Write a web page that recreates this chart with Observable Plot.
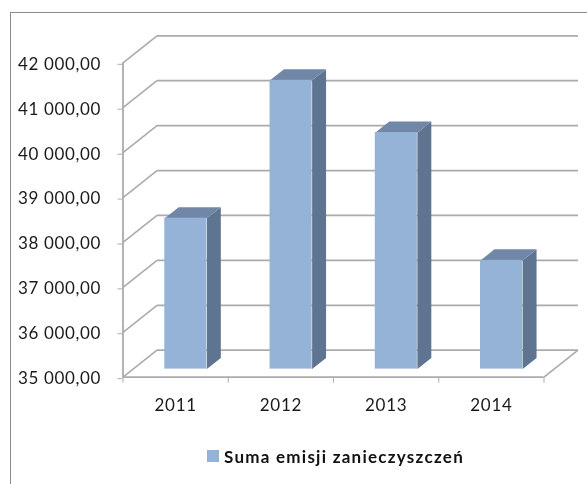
<!DOCTYPE html>
<html lang="pl">
<head>
<meta charset="utf-8">
<script src="https://cdn.jsdelivr.net/npm/d3@7"></script>
<script src="https://cdn.jsdelivr.net/npm/@observablehq/plot@0.6"></script>
<style>
  html, body { margin: 0; padding: 0; background: #fff; }
  #chart { position: relative; width: 587px; height: 484px; overflow: hidden; font-family: Lato, sans-serif; filter: blur(0.4px); }
  #frame { position: absolute; left: 10px; top: 12px; width: 600px; height: 500px; border: 1px solid #8c8c8c; border-width: 1.5px 0 0 1.5px; box-sizing: border-box; }
  #plot { position: absolute; left: 0; top: 0; }
  #plot svg { background: transparent !important; display: block; }
  #legend { position: absolute; left: 207px; top: 446px; display: flex; align-items: center; height: 20px; font-size: 17px; letter-spacing: 1.25px; font-weight: 700; color: #111; white-space: nowrap; }
  #legend i { display: block; width: 12px; height: 12px; margin-right: 5px; background: #95b3d7; }
</style>
</head>
<body>
<div id="chart">
  <div id="frame"></div>
  <div id="plot"></div>
  <div id="legend"><i></i><span>Suma emisji zanieczyszczeń</span></div>
</div>
<script>
const years = ["2011", "2012", "2013", "2014"];
const emissions = [38360, 41430, 40265, 37420];
const yTicks = [35000, 36000, 37000, 38000, 39000, 40000, 41000, 42000];
const categoryEdges = [0, 1, 2, 3, 4];
const baseValue = 35000;

// pseudo-3D: depth d (0 = front of floor, 1 = back wall) shifts a point in data units
const depthX = 34 / 105.25;
const depthY = 27 / 44.93 * 1000;
const barFront = 0.3, barBack = 0.71, barLeft = 0.3, barRight = 0.7;
const px = (c, d) => c + d * depthX;
const py = (v, d) => v + d * depthY;

const fmt = d3.formatLocale({decimal: ",", thousands: " ", grouping: [3], currency: ["", ""]}).format(",.2f");

const bars = emissions.map((v, i) => ({year: years[i], i, v}));
const poly = (id, pts) => pts.map(([c, v, d]) => ({id, x: px(c, d), y: py(v, d)}));
const sides = bars.flatMap(b => poly("s" + b.i, [
  [b.i + barRight, b.v, barFront], [b.i + barRight, b.v, barBack],
  [b.i + barRight, baseValue, barBack], [b.i + barRight, baseValue, barFront]
]));
const tops = bars.flatMap(b => poly("t" + b.i, [
  [b.i + barLeft, b.v, barFront], [b.i + barRight, b.v, barFront],
  [b.i + barRight, b.v, barBack], [b.i + barLeft, b.v, barBack]
]));

const grey = "#ababab";
const chart = Plot.plot({
  width: 587,
  height: 430,
  marginLeft: 122.5,
  marginRight: 43.5,
  marginTop: 62.3,
  marginBottom: 53.3,
  x: {type: "linear", domain: [0, 4]},
  y: {type: "linear", domain: [35000, 42000]},
  style: {fontFamily: "Lato, sans-serif", background: "transparent", letterSpacing: "0.65px"},
  marks: [
    // back-wall gridlines
    Plot.link(yTicks, {x1: px(0, 1), x2: px(4, 1), y1: v => py(v, 1), y2: v => py(v, 1), stroke: grey, strokeWidth: 1.8}),
    // side-wall diagonals
    Plot.link(yTicks, {x1: 0, x2: px(0, 1), y1: v => v, y2: v => py(v, 1), stroke: grey, strokeWidth: 1.6}),
    // floor right edge
    Plot.link([baseValue], {x1: 4, x2: px(4, 1), y1: v => v, y2: v => py(v, 1), stroke: grey, strokeWidth: 1.6}),
    // bar side and top faces
    Plot.line(sides, {x: "x", y: "y", z: "id", fill: "#5f7490", stroke: null}),
    Plot.line(tops, {x: "x", y: "y", z: "id", fill: "#7087a8", stroke: null}),
    // bar front faces
    Plot.rect(bars, {
      x1: b => px(b.i + barLeft, barFront), x2: b => px(b.i + barRight, barFront),
      y1: () => py(baseValue, barFront), y2: b => py(b.v, barFront),
      fill: "#95b3d7"
    }),
    // axis lines
    Plot.ruleX([0], {y1: 35000, y2: 42000, stroke: grey, strokeWidth: 1.8}),
    Plot.ruleY([baseValue], {x1: 0, x2: 4, stroke: grey, strokeWidth: 1.8}),
    Plot.axisY({ticks: yTicks, tickFormat: fmt, tickSize: 5, tickPadding: 17, stroke: grey, fill: "#1a1a1a", fontSize: 17, dy: 1.5, label: null}),
    Plot.axisX({ticks: categoryEdges, tickFormat: () => "", tickSize: 6, stroke: grey, label: null}),
    Plot.axisX({ticks: years.map((_, i) => i + 0.5), tickFormat: (_, i) => years[i], tickSize: 0, tickPadding: 22, fill: "#1a1a1a", fontSize: 17, label: null})
  ]
});
document.getElementById("plot").append(chart);
</script>
</body>
</html>
